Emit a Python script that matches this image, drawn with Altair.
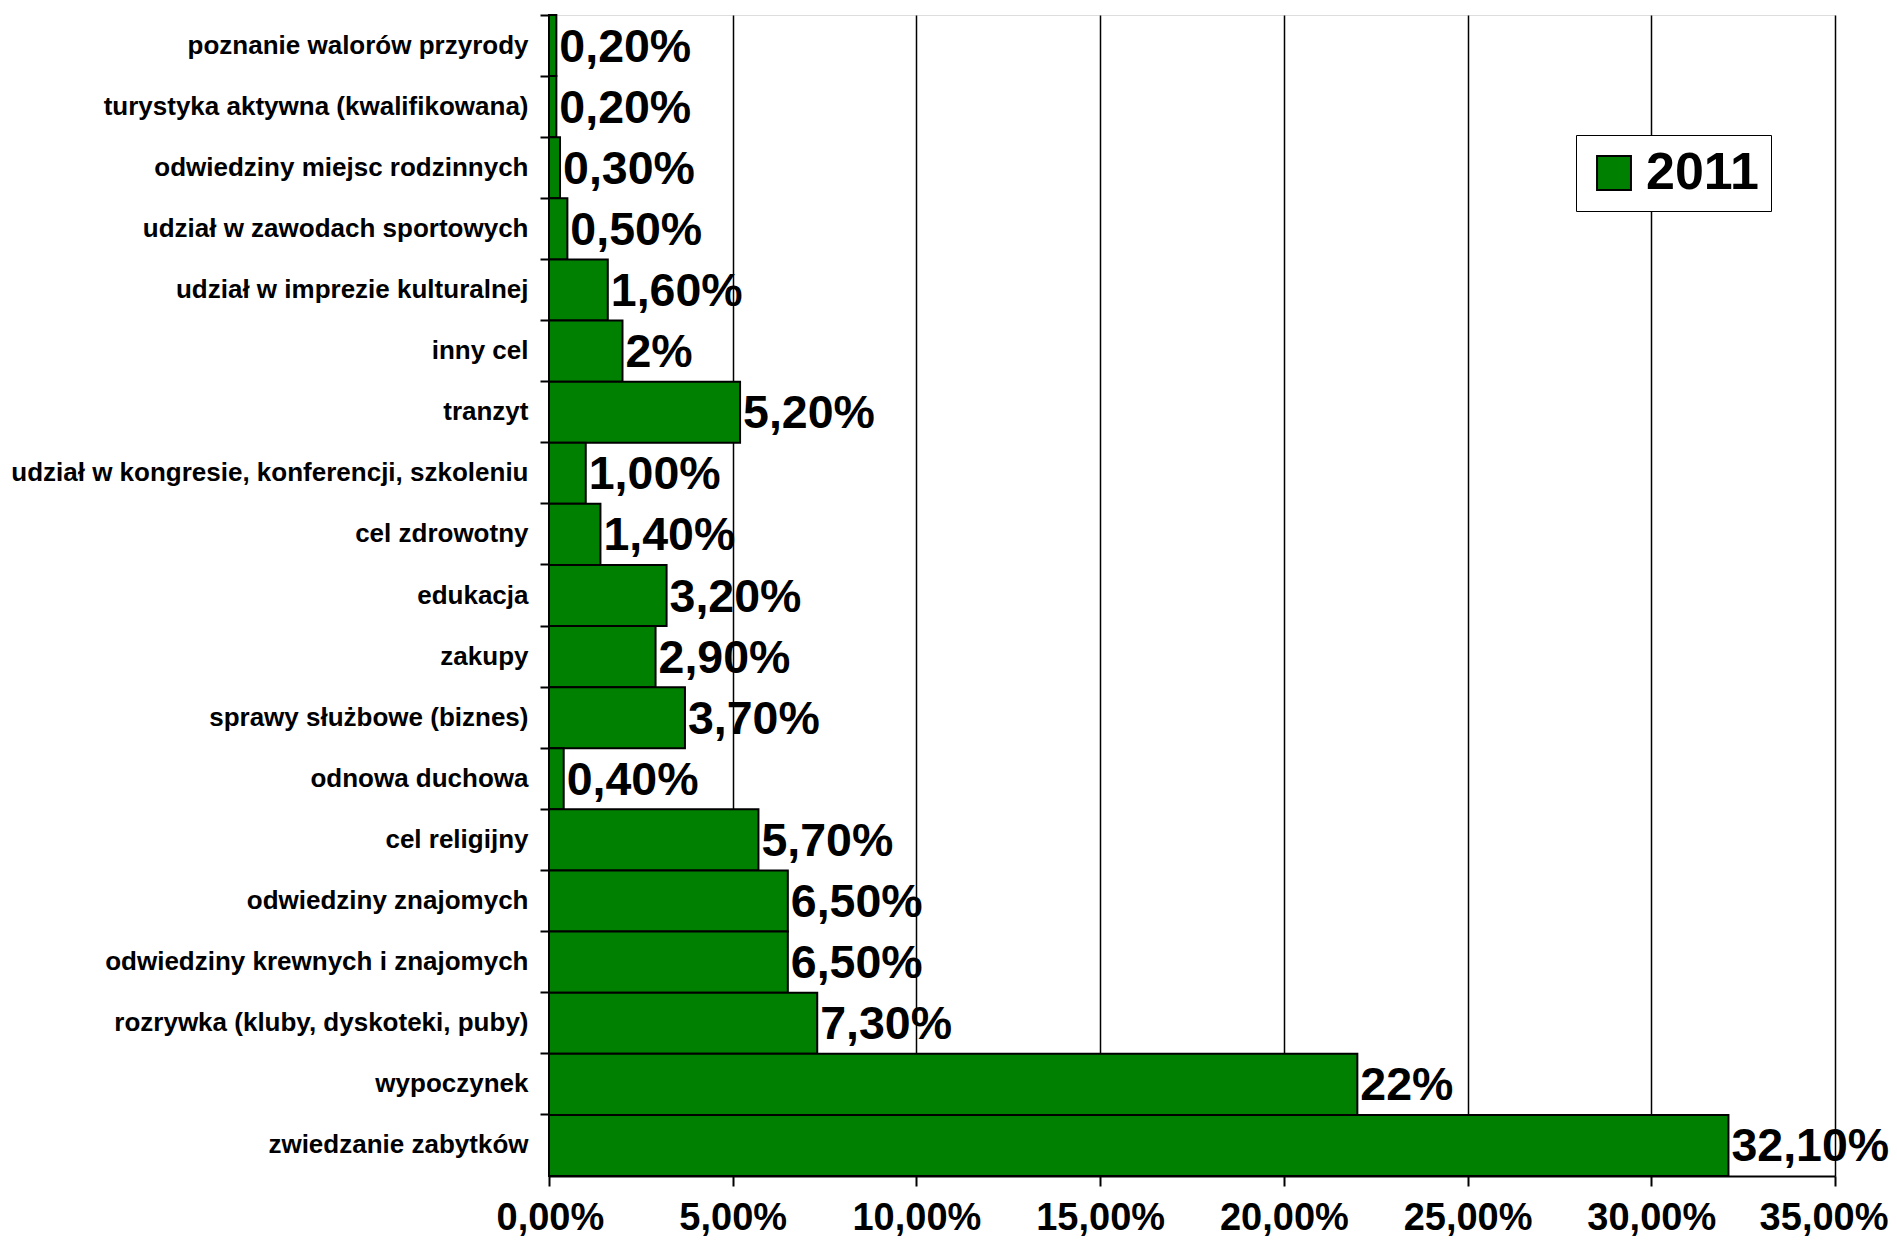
import altair as alt
import pandas as pd

categories = [
    "poznanie walorów przyrody",
    "turystyka aktywna (kwalifikowana)",
    "odwiedziny miejsc rodzinnych",
    "udział w zawodach sportowych",
    "udział w imprezie kulturalnej",
    "inny cel",
    "tranzyt",
    "udział w kongresie, konferencji, szkoleniu ",
    "cel zdrowotny",
    "edukacja",
    "zakupy",
    "sprawy służbowe (biznes)",
    "odnowa duchowa",
    "cel religijny",
    "odwiedziny znajomych",
    "odwiedziny krewnych i znajomych",
    "rozrywka (kluby, dyskoteki, puby)",
    "wypoczynek",
    "zwiedzanie zabytków",
]
values = [0.2, 0.2, 0.3, 0.5, 1.6, 2.0, 5.2, 1.0, 1.4, 3.2, 2.9, 3.7, 0.4, 5.7, 6.5, 6.5, 7.3, 22.0, 32.1]
value_labels = ["0,20%", "0,20%", "0,30%", "0,50%", "1,60%", "2%", "5,20%", "1,00%", "1,40%",
                "3,20%", "2,90%", "3,70%", "0,40%", "5,70%", "6,50%", "6,50%", "7,30%", "22%", "32,10%"]
x_ticks = [0, 5, 10, 15, 20, 25, 30, 35]
series = "2011"

df = pd.DataFrame({
    "cel": categories,
    "udzial": values,
    "etykieta": value_labels,
    "rok": [series] * len(categories),
})

FONT = "Liberation Sans"

y_enc = alt.Y(
    "cel:N", sort=None, title=None,
    scale=alt.Scale(paddingInner=0, paddingOuter=0),
    axis=alt.Axis(
        bandPosition=0, labelFont=FONT, labelFontSize=26, labelFontWeight="bold",
        labelColor="black", tickColor="black", tickSize=9, tickWidth=2,
        domainColor="black", domainWidth=2, labelPadding=12, grid=False,
        labelLimit=700,
    ),
)
x_enc = alt.X(
    "udzial:Q", title=None,
    scale=alt.Scale(domain=[0, 35], nice=False),
    axis=alt.Axis(
        values=x_ticks,
        labelExpr="format(datum.value, '.0f') + ',00%'",
        labelFont=FONT, labelFontSize=38, labelFontWeight="bold", labelColor="black",
        tickColor="black", tickSize=10, tickWidth=2, labelPadding=13,
        domainColor="black", domainWidth=2,
        grid=True, gridColor="black", gridWidth=1.5,
        labelFlush=True, labelFlushOffset=53,
    ),
)

bars = alt.Chart(df).mark_bar(stroke="black", strokeWidth=2).encode(
    y=y_enc,
    x=x_enc,
    color=alt.Color(
        "rok:N",
        scale=alt.Scale(domain=[series], range=["#008000"]),
        legend=alt.Legend(
            title=None, orient="none", legendX=1027, legendY=120,
            padding=12, strokeColor="black", fillColor="white",
            symbolType="square", symbolSize=1150, symbolStrokeColor="black",
            symbolStrokeWidth=2, labelFont=FONT, labelFontSize=52,
            labelFontWeight="bold", labelColor="black", labelOffset=6,
        ),
    ),
)

text = alt.Chart(df).mark_text(
    align="left", baseline="middle", dx=3, dy=2, font=FONT, fontSize=46.5,
    fontWeight="bold", color="black",
).encode(
    y=alt.Y("cel:N", sort=None),
    x=alt.X("udzial:Q"),
    text="etykieta:N",
)

chart = alt.layer(bars, text).properties(
    width=1286, height=1161,
    autosize=alt.AutoSizeParams(type="none"),
    padding={"left": 541, "top": 7, "right": 54, "bottom": 62},
).configure_view(stroke="black", strokeWidth=2).configure(background="white")

chart.save("out.html", embed_options={"renderer": "svg", "actions": False})
